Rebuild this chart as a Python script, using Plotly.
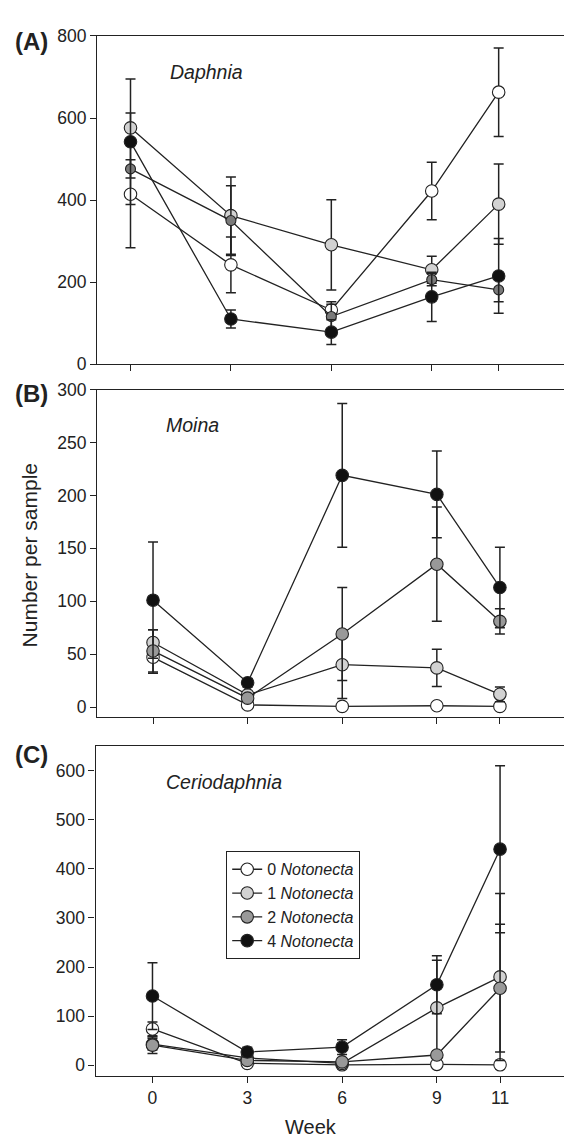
import plotly.graph_objects as go

weeks = [0, 3, 6, 9, 11]
groups = ["0", "1", "2", "4"]
fills = ["#ffffff", "#d2d2d2", "#999999", "#111111"]
fills_a = ["#ffffff", "#d2d2d2", "#7a7a7a", "#111111"]

# Panel A: Daphnia
daph_mean = {"0": [414, 242, 132, 422, 663],
             "1": [576, 362, 291, 230, 390],
             "2": [476, 350, 116, 206, 181],
             "4": [542, 110, 78, 164, 215]}
daph_err = {"0": [130, 68, 20, 70, 108],
            "1": [36, 94, 110, 33, 98],
            "2": [22, 85, 30, 15, 29],
            "4": [153, 22, 30, 60, 91]}

# Panel B: Moina
moina_mean = {"0": [47, 2, 0.6, 1.2, 0.6],
              "1": [61, 11.5, 40, 37, 12],
              "2": [53, 8.4, 69, 135, 81],
              "4": [101, 23, 219, 201, 113]}
moina_err = {"0": [15, 1, 1, 1, 1],
             "1": [12, 2, 32, 17.5, 7],
             "2": [20, 3, 44, 54, 12],
             "4": [55, 4, 68, 41, 38]}

# Panel C: Ceriodaphnia
cerio_mean = {"0": [74, 4, 1, 2, 1],
              "1": [43, 15, 4, 117, 180],
              "2": [41, 10, 7, 21, 157],
              "4": [141, 27, 37, 164, 440]}
cerio_err = {"0": [14, 1, 1, 1, 1],
             "1": [12, 3, 2, 97, 170],
             "2": [17, 3, 3, 5, 130],
             "4": [68, 10, 15, 59, 170]}

FONT = "Liberation Sans, Arial, sans-serif"
INK = "#222222"

fig = go.Figure()

panels = [
    (daph_mean, daph_err, "x", "y", fills_a, False),
    (moina_mean, moina_err, "x2", "y2", fills, False),
    (cerio_mean, cerio_err, "x3", "y3", fills, True),
]

for means, errs, xa, ya, cols, show in panels:
    for g, c in zip(groups, cols):
        size = 10 if (xa == "x" and g == "2") else 12.5
        fig.add_trace(go.Scatter(
            x=weeks, y=means[g], xaxis=xa, yaxis=ya,
            mode="lines+markers",
            name=f"{g} <i>Notonecta</i>",
            showlegend=show,
            line=dict(color=INK, width=1.3),
            marker=dict(size=size, color=c, line=dict(color=INK, width=1.1)),
            error_y=dict(type="data", array=errs[g], visible=True,
                         color=INK, thickness=1.5, width=5),
        ))

H = 1141.0
W = 572.0

def ydom(top_px, bot_px):
    return [1 - bot_px / H, 1 - top_px / H]

axis_common = dict(showline=True, linecolor=INK, linewidth=1.3,
                   ticks="outside", ticklen=6, tickwidth=1.3, tickcolor=INK,
                   showgrid=False, zeroline=False,
                   tickfont=dict(family=FONT, size=17.5, color=INK))

fig.update_layout(
    width=572, height=1141,
    margin=dict(l=0, r=0, t=0, b=0),
    paper_bgcolor="white", plot_bgcolor="white",
    font=dict(family=FONT, color=INK),
    xaxis=dict(domain=[89.2 / W, 1], range=[-0.995, 13.43], tickvals=weeks,
               showticklabels=False, mirror=True, anchor="y", **axis_common),
    yaxis=dict(domain=ydom(18.3, 352.3), range=[0, 800], tickvals=[0, 200, 400, 600, 800],
               anchor="x", **axis_common),
    xaxis2=dict(domain=[89.2 / W, 1], range=[-1.77, 13.54], tickvals=weeks,
                showticklabels=False, mirror=True, anchor="y2", **axis_common),
    yaxis2=dict(domain=ydom(378.3, 711), range=[-9, 300],
                tickvals=[0, 50, 100, 150, 200, 250, 300], anchor="x2", **axis_common),
    xaxis3=dict(domain=[87.6 / W, 1], range=[-1.80, 13.53], tickvals=weeks,
                showticklabels=True, mirror=True, anchor="y3", **axis_common),
    yaxis3=dict(domain=ydom(741, 1076.5), range=[-21, 650],
                tickvals=[0, 100, 200, 300, 400, 500, 600], anchor="x3", **axis_common),
    legend=dict(x=218 / W, y=1 - 848 / H, xanchor="left", yanchor="top",
                bordercolor=INK, borderwidth=1.2, bgcolor="white",
                font=dict(family=FONT, size=16, color=INK),
                tracegroupgap=0, itemwidth=30),
)

annos = [
    dict(text="<i>Daphnia</i>", x=159.6 / W, y=1 - 55 / H, size=19.5, xanchor="left"),
    dict(text="<i>Moina</i>", x=155.7 / W, y=1 - 414 / H, size=19.5, xanchor="left"),
    dict(text="<i>Ceriodaphnia</i>", x=155.7 / W, y=1 - 778 / H, size=19.5, xanchor="left"),
    dict(text="<b>(A)</b>", x=5 / W, y=1 - 24 / H, size=24, xanchor="left"),
    dict(text="<b>(B)</b>", x=5 / W, y=1 - 382 / H, size=24, xanchor="left"),
    dict(text="<b>(C)</b>", x=5 / W, y=1 - 750 / H, size=24, xanchor="left"),
    dict(text="Week", x=303 / W, y=1 - 1129 / H, size=20, xanchor="center"),
]
for a in annos:
    fig.add_annotation(text=a["text"], x=a["x"], y=a["y"], xref="paper", yref="paper",
                       xanchor=a["xanchor"], yanchor="middle", showarrow=False,
                       font=dict(family=FONT, size=a["size"], color=INK))

fig.add_annotation(text="Number per sample", x=21.5 / W, y=1 - 547.5 / H,
                   xref="paper", yref="paper", xanchor="center", yanchor="middle",
                   textangle=-90, showarrow=False,
                   font=dict(family=FONT, size=21, color=INK))

fig.write_html("out.html")
